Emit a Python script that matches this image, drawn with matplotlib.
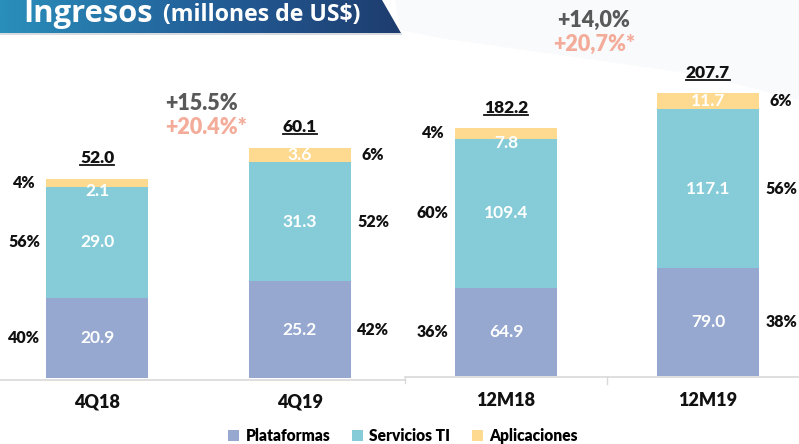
import matplotlib
matplotlib.use("Agg")
import matplotlib.pyplot as plt
import numpy as np
from matplotlib.patches import Polygon, Patch
from matplotlib.lines import Line2D
from matplotlib.colors import LinearSegmentedColormap

# ---------------- data ----------------
quarter_cats = ["4Q18", "4Q19"]
annual_cats = ["12M18", "12M19"]
series_names = ["Plataformas", "Servicios TI", "Aplicaciones"]

quarter_plataformas = [20.9, 25.2]
quarter_servicios = [29.0, 31.3]
quarter_aplicaciones = [2.1, 3.6]
quarter_totals = ["52.0", "60.1"]
quarter_pcts = [["40%", "56%", "4%"], ["42%", "52%", "6%"]]

annual_plataformas = [64.9, 79.0]
annual_servicios = [109.4, 117.1]
annual_aplicaciones = [7.8, 11.7]
annual_totals = ["182.2", "207.7"]
annual_pcts = [["36%", "60%", "4%"], ["38%", "56%", "6%"]]

quarter_growth = ["+15.5%", "+20.4%*"]
annual_growth = ["+14,0%", "+20,7%*"]

title_main = "Ingresos"
title_sub = "(millones de US$)"

# ---------------- style ----------------
colors = ["#96A8CF", "#86CCD8", "#FDDA90"]
W, H = 799, 444
plt.rcParams["font.family"] = ["Lato", "DejaVu Sans"]

fig = plt.figure(figsize=(W / 100, H / 100), dpi=100)
fig.patch.set_facecolor("white")


def fx(x):
    return x / W


def fy(y):
    return 1 - y / H


# background layer
bg = fig.add_axes([0, 0, 1, 1], zorder=0)
bg.axis("off")
bg.add_patch(Polygon([[395, 0], [799, 0], [799, 100], [700, 75], [560, 55], [440, 38], [400, 30]],
                     closed=True, facecolor="#F9FAFC", edgecolor="none", zorder=0))

# banner with gradient
grad = np.linspace(0, 1, 256).reshape(1, -1)
cmap = LinearSegmentedColormap.from_list("b", ["#2A8FBA", "#23609A", "#1E3C6E"])
im = bg.imshow(grad, extent=[0, 402, 33, 0], cmap=cmap, aspect="auto", zorder=2)
poly = Polygon([[0, 0], [382, 0], [401, 33], [0, 33]], closed=True, facecolor="none",
               edgecolor="none", transform=bg.transData)
bg.add_patch(poly)
im.set_clip_path(poly)
bg.plot([0, 401], [34, 34], color="#D0D4DA", lw=1.2, zorder=1)
bg.set_xlim(0, W)
bg.set_ylim(H, 0)

r = fig.canvas.get_renderer()


def fit_text(x, y, s, target_w, size0, **kw):
    t = fig.text(fx(x), fy(y), s, fontsize=size0, **kw)
    w = t.get_window_extent(renderer=r).width
    t.set_fontsize(size0 * target_w / w)
    return t


fit_text(23, 22, title_main, 130, 24, color="white", fontweight="bold",
         ha="left", va="baseline", family=["Open Sans", "DejaVu Sans"], zorder=5)
fit_text(163, 21, title_sub, 199, 14, color="white", fontweight="bold",
         ha="left", va="baseline", family=["Open Sans", "DejaVu Sans"], zorder=5)

# axes
base_l = 378
base_r = 376
scale_l = 3.83
scale_r = 1.362

axL = fig.add_axes([fx(-4), fy(base_l), fx(405), base_l / H], zorder=2)
axL.set_xlim(-0.5, 1.5)
axL.set_ylim(0, base_l / scale_l)

axR = fig.add_axes([fx(405), fy(base_r), fx(394), base_r / H], zorder=2)
axR.set_xlim(-0.5, -0.5 + 394 / 202)
axR.set_ylim(0, base_r / scale_r)

for ax in (axL, axR):
    ax.axis("off")
    ax.patch.set_alpha(0)

bar_w = 102 / 202.5

total_texts = []


def draw_panel(ax, cats, plat, serv, apl, totals, pcts, sides):
    x = np.arange(len(cats))
    stacks = [plat, serv, apl]
    bottom = np.zeros(len(cats))
    ymax = ax.get_ylim()[1]
    for i, vals in enumerate(stacks):
        vals = np.array(vals)
        ax.bar(x, vals, bar_w, bottom=bottom, color=colors[i], edgecolor="none", zorder=3)
        for j in range(len(cats)):
            mid = bottom[j] + vals[j] / 2
            ylab = mid
            if vals[j] < ymax * 0.03:
                ylab = bottom[j] - ymax * 0.012
            ax.text(x[j], ylab, f"{vals[j]:.1f}", color="white", fontsize=12.5,
                    fontweight="bold", ha="center", va="center", zorder=4)
            dx = bar_w / 2 + 0.11
            px = x[j] - dx if sides[j] == "left" else x[j] + dx
            ax.text(px, mid, pcts[j][i], color="#111111", fontsize=11.5,
                    fontweight="heavy", ha="center", va="center", zorder=4)
        bottom = bottom + vals
    for j in range(len(cats)):
        t = ax.text(x[j], bottom[j] + ymax * 0.033, totals[j], color="#111111",
                    fontsize=12.5, fontweight="heavy", ha="center", va="bottom", zorder=4)
        total_texts.append((ax, t))


draw_panel(axL, quarter_cats, quarter_plataformas, quarter_servicios, quarter_aplicaciones,
           quarter_totals, quarter_pcts, ["left", "right"])
draw_panel(axR, annual_cats, annual_plataformas, annual_servicios, annual_aplicaciones,
           annual_totals, annual_pcts, ["left", "right"])

# baselines
bg.plot([0, 405], [base_l + 1.5, base_l + 1.5], color="#D9D9D9", lw=1.2, zorder=1)
bg.plot([405, 799], [base_r + 1, base_r + 1], color="#D9D9D9", lw=1.2, zorder=1)
bg.plot([405, 405], [base_r + 1, base_l + 5], color="#D9D9D9", lw=1.0, zorder=1)
bg.plot([607, 607], [base_r + 1, base_r + 8], color="#D9D9D9", lw=1.0, zorder=1)

# category labels
for ax, cats, yy in ((axL, quarter_cats, 402), (axR, annual_cats, 400)):
    for j, c in enumerate(cats):
        xd = ax.transData.transform((j, 0))[0]
        fig.text(xd / fig.bbox.width, fy(yy), c, color="#111111",
                 fontsize=13, fontweight="heavy", ha="center", va="center")

# growth annotations
gkw = dict(fontsize=15.5, fontweight="heavy", ha="center", va="center")
fig.text(fx(201), fy(103), quarter_growth[0], color="#595959", **gkw)
fig.text(fx(206), fy(128), quarter_growth[1], color="#F4AC9A", **gkw)
fig.text(fx(594), fy(20), annual_growth[0], color="#595959", **gkw)
fig.text(fx(594), fy(44), annual_growth[1], color="#F4AC9A", **gkw)

# legend
handles = [Patch(facecolor=colors[i], edgecolor="none", label=series_names[i]) for i in range(3)]
fig.legend(handles=handles, loc="center", bbox_to_anchor=(fx(403), fy(436)), ncol=3,
           frameon=False, handlelength=0.7, handleheight=0.7,
           handletextpad=0.4, columnspacing=1.4, prop={"weight": "heavy", "size": 11.2})

# underline totals
fig.canvas.draw()
r = fig.canvas.get_renderer()
for ax, t in total_texts:
    bb = t.get_window_extent(renderer=r)
    y = bb.y0 + 1
    fig.add_artist(Line2D([bb.x0 / W, bb.x1 / W], [y / H, y / H], color="#111111", lw=1.3))

fig.savefig("out.png", dpi=100, facecolor="white")
